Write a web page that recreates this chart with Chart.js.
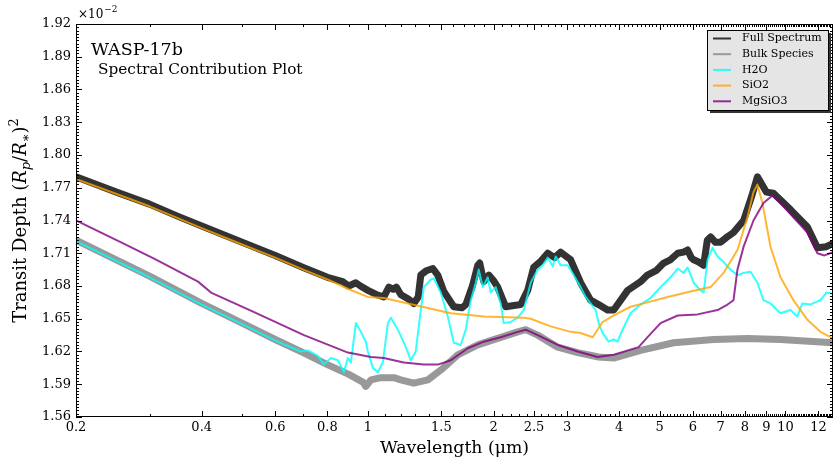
<!DOCTYPE html>
<html><head><meta charset="utf-8">
<script src="https://cdn.jsdelivr.net/npm/chart.js@4.4.1/dist/chart.umd.min.js"></script>
<style>html,body{margin:0;padding:0;background:#fff;}canvas{display:block;}</style>
</head><body>
<canvas id="c" width="840" height="467"></canvas>
<script>
// ---- tick labels ----
const xTickValues = [0.2,0.4,0.6,0.8,1,1.5,2,2.5,3,4,5,6,7,8,9,10,12];
const yTickValues = [1.56,1.59,1.62,1.65,1.68,1.71,1.74,1.77,1.80,1.83,1.86,1.89,1.92];
const seriesNames = ["Full Spectrum","Bulk Species","H2O","SiO2","MgSiO3"];

// ---- Full Spectrum ----
const fullWl = [0.2,0.25,0.3,0.35,0.4,0.5,0.6,0.7,0.8,0.87,0.9,0.936,0.96,1.0,1.05,1.092,1.123,1.15,1.17,1.2,1.25,1.288,1.32,1.339,1.38,1.431,1.47,1.52,1.606,1.68,1.716,1.78,1.833,1.853,1.895,1.948,2.0,2.046,2.138,2.323,2.414,2.495,2.6,2.696,2.8,2.896,3.06,3.233,3.416,3.57,3.75,3.88,4.19,4.5,4.67,4.9,5.11,5.3,5.52,5.7,5.83,5.95,6.03,6.2,6.37,6.5,6.62,6.8,6.99,7.2,7.51,7.94,8.3,8.57,9.0,9.36,10.28,11.29,11.93,12.54,13.0];
const fullDepth = [1.780,1.766,1.755,1.744,1.735,1.720,1.708,1.697,1.688,1.684,1.680,1.683,1.680,1.676,1.672,1.670,1.679,1.677,1.679,1.672,1.668,1.664,1.670,1.690,1.694,1.696,1.690,1.675,1.661,1.660,1.663,1.680,1.699,1.701,1.684,1.690,1.685,1.679,1.661,1.663,1.676,1.697,1.703,1.710,1.706,1.711,1.704,1.683,1.667,1.663,1.658,1.658,1.676,1.684,1.690,1.694,1.701,1.704,1.710,1.711,1.713,1.706,1.704,1.702,1.699,1.722,1.725,1.720,1.720,1.724,1.729,1.740,1.762,1.780,1.766,1.765,1.750,1.734,1.715,1.716,1.719];

// ---- Bulk Species ----
const bulkWl = [0.2,0.3,0.4,0.5,0.6,0.7,0.8,0.9,0.973,0.989,1.017,1.074,1.154,1.199,1.288,1.392,1.495,1.642,1.833,2.046,2.285,2.388,2.551,2.849,3.18,3.57,3.88,4.5,5.396,6.73,8.11,9.73,13.0];
const bulkDepth = [1.722,1.689,1.664,1.646,1.631,1.619,1.608,1.599,1.592,1.588,1.594,1.596,1.596,1.594,1.591,1.594,1.603,1.617,1.626,1.632,1.638,1.640,1.635,1.624,1.619,1.615,1.614,1.621,1.628,1.631,1.632,1.631,1.628];

// ---- H2O ----
const h2oWl = [0.2,0.3,0.4,0.5,0.6,0.6915,0.7186,0.7591,0.7847,0.8155,0.8477,0.8762,0.8957,0.9106,0.936,0.962,0.989,1.0,1.028,1.057,1.086,1.117,1.135,1.18,1.233,1.267,1.302,1.339,1.361,1.415,1.439,1.495,1.554,1.606,1.669,1.716,1.764,1.813,1.843,1.884,1.937,1.969,2.024,2.08,2.115,2.198,2.285,2.362,2.455,2.551,2.623,2.696,2.771,2.818,2.896,3.009,3.11,3.233,3.323,3.416,3.512,3.57,3.649,3.772,3.88,3.965,4.074,4.257,4.5,4.754,5.023,5.308,5.52,5.702,5.83,6.03,6.261,6.37,6.508,6.69,6.878,7.11,7.388,7.675,7.94,8.25,8.57,8.86,9.21,9.73,10.28,10.68,10.98,11.47,12.13,12.54,13.0];
const h2oDepth = [1.721,1.688,1.663,1.645,1.630,1.620,1.621,1.616,1.608,1.614,1.612,1.601,1.614,1.610,1.646,1.638,1.629,1.620,1.605,1.601,1.610,1.646,1.651,1.640,1.624,1.612,1.620,1.658,1.679,1.686,1.687,1.674,1.652,1.628,1.626,1.640,1.667,1.683,1.695,1.679,1.688,1.674,1.679,1.664,1.646,1.647,1.651,1.658,1.683,1.695,1.699,1.706,1.698,1.707,1.699,1.699,1.690,1.679,1.670,1.664,1.658,1.646,1.637,1.629,1.631,1.629,1.640,1.655,1.663,1.669,1.679,1.688,1.696,1.692,1.697,1.683,1.676,1.674,1.704,1.715,1.707,1.702,1.695,1.690,1.692,1.693,1.683,1.667,1.664,1.655,1.658,1.652,1.664,1.663,1.667,1.674,1.673];

// ---- SiO2 ----
const sio2Wl = [0.2,0.3,0.4,0.5,0.6,0.7,0.8,0.9,1.0,1.092,1.317,1.58,1.895,2.362,2.455,2.741,3.06,3.233,3.454,3.649,3.88,4.257,4.67,5.222,5.925,6.62,7.11,7.675,8.11,8.385,8.57,8.81,9.21,9.73,10.45,11.29,12.13,13.0];
const sio2Depth = [1.778,1.753,1.733,1.718,1.706,1.695,1.686,1.677,1.670,1.669,1.662,1.655,1.652,1.651,1.650,1.643,1.638,1.637,1.633,1.647,1.653,1.661,1.665,1.670,1.675,1.679,1.692,1.713,1.743,1.766,1.773,1.756,1.716,1.688,1.667,1.649,1.638,1.632];

// ---- MgSiO3 ----
const mgsio3Wl = [0.2,0.2565,0.3076,0.392,0.421,0.534,0.703,0.8957,1.017,1.092,1.219,1.361,1.471,1.58,1.735,1.895,2.08,2.285,2.388,2.551,2.849,3.18,3.55,3.88,4.45,4.67,5.023,5.52,6.159,6.878,7.266,7.51,7.675,7.94,8.385,8.86,9.31,9.73,10.45,11.29,11.93,12.4,13.0];
const mgsio3Depth = [1.740,1.720,1.705,1.684,1.674,1.656,1.635,1.619,1.615,1.614,1.610,1.608,1.608,1.612,1.623,1.629,1.633,1.638,1.640,1.635,1.626,1.620,1.615,1.617,1.624,1.633,1.646,1.653,1.654,1.658,1.663,1.667,1.695,1.716,1.740,1.756,1.763,1.756,1.743,1.729,1.710,1.708,1.711];

const SERIF = "'DejaVu Serif', serif";
const pts = (xs, ys) => xs.map((x, i) => ({x: x, y: ys[i]}));

const colors = ['#333333','#999999','rgba(0,255,255,0.8)','rgba(255,165,0,0.8)','rgba(128,0,128,0.8)'];
const widths = [7,7,2,2,2];
const orders = [5,4,3,2,1];
const dataPairs = [[fullWl,fullDepth],[bulkWl,bulkDepth],[h2oWl,h2oDepth],[sio2Wl,sio2Depth],[mgsio3Wl,mgsio3Depth]];

const datasets = seriesNames.map((n, i) => ({
  label: n,
  data: pts(dataPairs[i][0], dataPairs[i][1]),
  borderColor: colors[i],
  backgroundColor: colors[i],
  borderWidth: widths[i],
  pointRadius: 0,
  tension: 0,
  fill: false,
  order: orders[i],
  borderJoinStyle: 'round',
  borderCapStyle: 'round'
}));

function drawRich(ctx, parts, x, y) {
  let w = 0;
  parts.forEach(p => { ctx.font = p.font; w += ctx.measureText(p.t).width; });
  let cx = x - w / 2;
  parts.forEach(p => {
    ctx.font = p.font;
    ctx.fillText(p.t, cx, y + (p.dy || 0));
    cx += ctx.measureText(p.t).width;
  });
}

const decor = {
  id: 'decor',
  afterDraw(chart) {
    const ctx = chart.ctx;
    const a = chart.chartArea;
    const xs = chart.scales.x, ys = chart.scales.y;
    ctx.save();
    ctx.strokeStyle = '#000';
    ctx.lineWidth = 1;
    ctx.strokeRect(a.left + 0.5, a.top + 0.5, a.right - a.left - 1, a.bottom - a.top - 1);
    ctx.beginPath();
    for (let k = 2; k <= 130; k++) {
      const v = k / 10;
      const px = Math.round(xs.getPixelForValue(v)) + 0.5;
      if (px < a.left || px > a.right) continue;
      const major = xTickValues.some(t => Math.abs(t - v) < 1e-9);
      const L = major ? 6 : 3;
      ctx.moveTo(px, a.bottom); ctx.lineTo(px, a.bottom - L);
      ctx.moveTo(px, a.top); ctx.lineTo(px, a.top + L);
    }
    for (let k = 0; k <= 120; k++) {
      const v = 1.56 + k * 0.003;
      const py = Math.round(ys.getPixelForValue(v)) + 0.5;
      const L = (k % 10 === 0) ? 6 : 3;
      ctx.moveTo(a.left, py); ctx.lineTo(a.left + L, py);
      ctx.moveTo(a.right, py); ctx.lineTo(a.right - L, py);
    }
    ctx.stroke();

    ctx.fillStyle = '#000';
    ctx.textBaseline = 'alphabetic';
    ctx.textAlign = 'left';
    ctx.font = '12px ' + SERIF;
    ctx.fillText('\u00d710', 78, 18);
    const w10 = ctx.measureText('\u00d710').width;
    ctx.font = '9px ' + SERIF;
    ctx.fillText('\u22122', 78 + w10 + 1, 12);

    ctx.font = '17.5px ' + SERIF;
    ctx.fillText('WASP-17b', 91, 55);
    ctx.font = '15.3px ' + SERIF;
    ctx.fillText('Spectral Contribution Plot', 98, 74);

    drawRich(ctx, [{t: 'Wavelength (\u03bcm)', font: '17.3px ' + SERIF}], (a.left + a.right) / 2, 453);

    ctx.save();
    ctx.translate(26, (a.top + a.bottom) / 2);
    ctx.rotate(-Math.PI / 2);
    const big = '18px ' + SERIF, it = 'italic 18px ' + SERIF, sm = 'italic 13px ' + SERIF, sm2 = '13px ' + SERIF;
    drawRich(ctx, [
      {t: 'Transit Depth (', font: big},
      {t: 'R', font: it}, {t: 'p', font: sm, dy: 4},
      {t: '/', font: big},
      {t: 'R', font: it}, {t: '\u2217', font: sm2, dy: 4},
      {t: ')', font: big},
      {t: '2', font: sm2, dy: -8}
    ], 0, 0);
    ctx.restore();

    const lx = 707, ly = 30, lw = 121, lh = 80;
    ctx.fillStyle = '#333';
    ctx.fillRect(lx + 3, ly + 3, lw, lh);
    ctx.fillStyle = '#e5e5e5';
    ctx.fillRect(lx, ly, lw, lh);
    ctx.strokeStyle = '#000';
    ctx.lineWidth = 1;
    ctx.strokeRect(lx + 0.5, ly + 0.5, lw, lh);
    ctx.font = '11px ' + SERIF;
    ctx.textBaseline = 'middle';
    chart.data.datasets.forEach((ds, i) => {
      const yy = ly + 8.5 + i * 15.7;
      ctx.strokeStyle = ds.borderColor;
      ctx.lineWidth = 2;
      ctx.beginPath();
      ctx.moveTo(713, yy); ctx.lineTo(731, yy);
      ctx.stroke();
      ctx.fillStyle = '#000';
      ctx.fillText(ds.label, 742, yy);
    });
    ctx.restore();
  }
};

new Chart(document.getElementById('c'), {
  type: 'line',
  data: {datasets: datasets},
  options: {
    responsive: false,
    animation: false,
    layout: {padding: {left: 0, top: 24, right: 7, bottom: 0}},
    plugins: {legend: {display: false}, tooltip: {enabled: false}},
    scales: {
      x: {
        type: 'logarithmic',
        min: 0.2, max: 13.0,
        grid: {display: false, drawTicks: false},
        border: {display: false},
        afterBuildTicks: s => { s.ticks = xTickValues.map(v => ({value: v})); },
        afterFit: s => { s.height = 50; },
        ticks: {
          autoSkip: false, maxRotation: 0, minRotation: 0, padding: 3,
          color: '#000', font: {family: SERIF, size: 13},
          callback: v => String(v)
        }
      },
      y: {
        type: 'linear',
        min: 1.56, max: 1.92,
        grid: {display: false, drawTicks: false},
        border: {display: false},
        afterBuildTicks: s => { s.ticks = yTickValues.map(v => ({value: v})); },
        afterFit: s => { s.width = 76; },
        ticks: {
          autoSkip: false, padding: 5,
          color: '#000', font: {family: SERIF, size: 13},
          callback: v => Number(v).toFixed(2)
        }
      }
    }
  },
  plugins: [decor]
});
</script>
</body></html>
